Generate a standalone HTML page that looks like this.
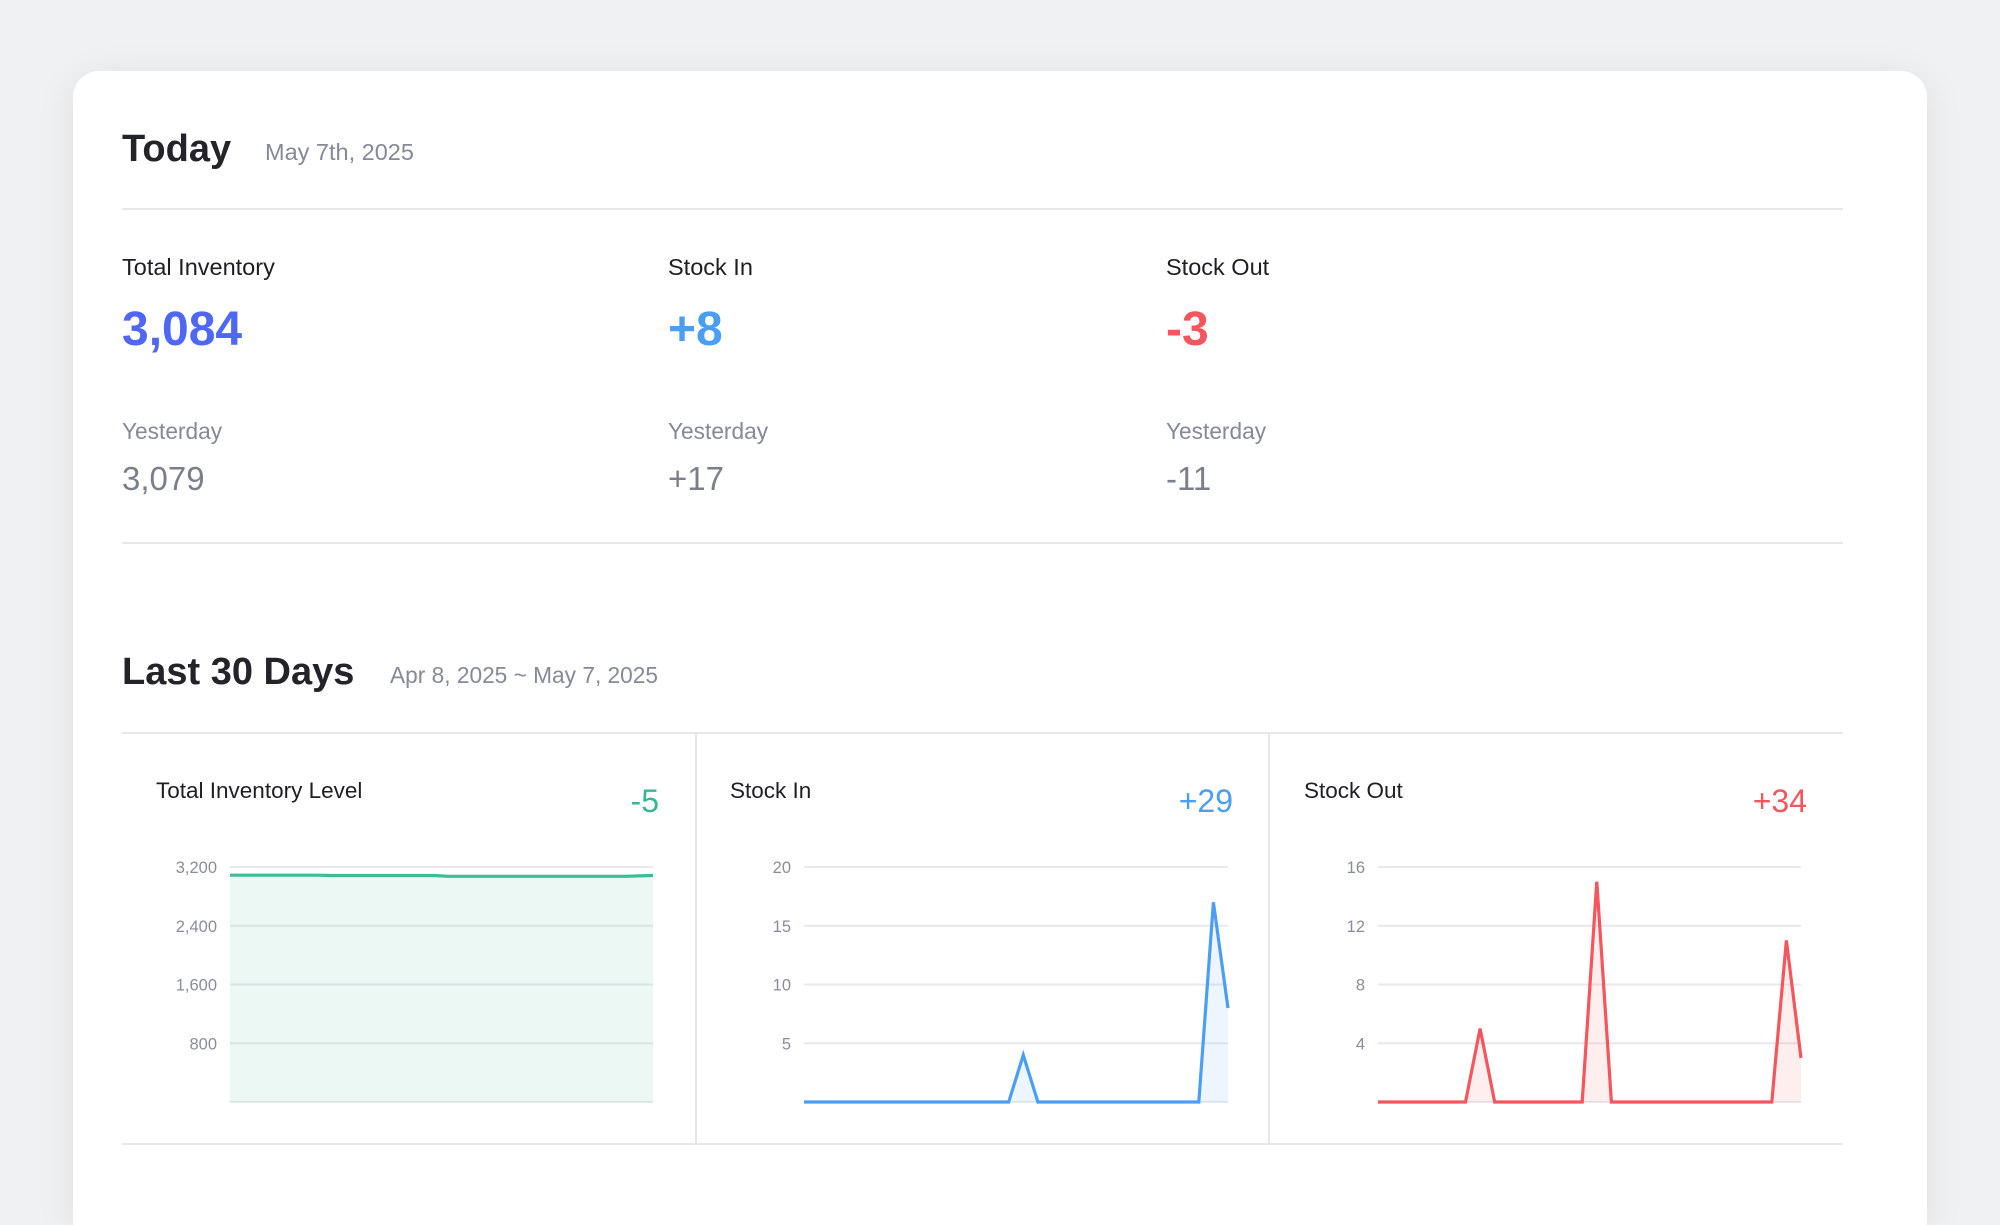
<!DOCTYPE html>
<html><head><meta charset="utf-8"><style>
html,body{margin:0;padding:0;width:2000px;height:1225px;overflow:hidden;}
body{background:#f0f1f3;position:relative;font-family:"Liberation Sans",sans-serif;}
.card{position:absolute;left:73px;top:71px;width:1854px;height:1154px;background:#fff;border-radius:26px 26px 0 0;box-shadow:0 6px 40px rgba(0,0,0,0.08);}
.t{position:absolute;white-space:nowrap;line-height:1;}
.hr{position:absolute;background:#e6e7eb;height:2px;}
.vr{position:absolute;background:#e6e7eb;width:2px;}
</style></head><body>
<div class="card"></div>
<div class="t" style="left:122px;top:130px;font-size:38px;font-weight:bold;color:#23242a;">Today</div>
<div class="t" style="left:265px;top:141px;font-size:23.5px;color:#868999;">May 7th, 2025</div>
<div class="hr" style="left:122px;top:208px;width:1721px;"></div>

<div class="t" style="left:122px;top:256px;font-size:23.5px;color:#1e1f24;">Total Inventory</div>
<div class="t" style="left:122px;top:306px;font-size:48px;font-weight:bold;color:#4f67f5;">3,084</div>
<div class="t" style="left:122px;top:420px;font-size:22.7px;color:#868999;">Yesterday</div>
<div class="t" style="left:122px;top:462px;font-size:33px;color:#7b7e8c;">3,079</div>

<div class="t" style="left:668px;top:256px;font-size:23.5px;color:#1e1f24;">Stock In</div>
<div class="t" style="left:668px;top:306px;font-size:48px;font-weight:bold;color:#4a9ff5;">+8</div>
<div class="t" style="left:668px;top:420px;font-size:22.7px;color:#868999;">Yesterday</div>
<div class="t" style="left:668px;top:462px;font-size:33px;color:#7b7e8c;">+17</div>

<div class="t" style="left:1166px;top:256px;font-size:23.5px;color:#1e1f24;">Stock Out</div>
<div class="t" style="left:1166px;top:306px;font-size:48px;font-weight:bold;color:#f5555d;">-3</div>
<div class="t" style="left:1166px;top:420px;font-size:22.7px;color:#868999;">Yesterday</div>
<div class="t" style="left:1166px;top:462px;font-size:33px;color:#7b7e8c;">-11</div>

<div class="hr" style="left:122px;top:542px;width:1721px;"></div>

<div class="t" style="left:122px;top:653px;font-size:38px;font-weight:bold;color:#23242a;">Last 30 Days</div>
<div class="t" style="left:390px;top:664px;font-size:22.7px;color:#868999;">Apr 8, 2025 ~ May 7, 2025</div>
<div class="hr" style="left:122px;top:732px;width:1721px;"></div>
<div class="hr" style="left:122px;top:1143px;width:1721px;"></div>
<div class="vr" style="left:695px;top:733px;height:411px;"></div>
<div class="vr" style="left:1268px;top:733px;height:411px;"></div>

<div class="t" style="left:156px;top:780px;font-size:22.5px;color:#1e1f24;">Total Inventory Level</div>
<div class="t" style="right:1341px;top:785px;font-size:32px;color:#35b893;">-5</div>
<div class="t" style="left:730px;top:780px;font-size:22.5px;color:#1e1f24;">Stock In</div>
<div class="t" style="right:767px;top:785px;font-size:32px;color:#4a9ff5;">+29</div>
<div class="t" style="left:1304px;top:780px;font-size:22.5px;color:#1e1f24;">Stock Out</div>
<div class="t" style="right:193px;top:785px;font-size:32px;color:#f5555d;">+34</div>

<svg id="charts" width="2000" height="1225" style="position:absolute;left:0;top:0;" xmlns="http://www.w3.org/2000/svg"></svg>
<script>
const inventoryValues = [3089,3089,3089,3089,3089,3089,3089,3084,3084,3084,3084,3084,3084,3084,3084,3073,3073,3073,3073,3073,3073,3073,3073,3073,3073,3073,3073,3073,3079,3084];
const stockInValues = [0,0,0,0,0,0,0,0,0,0,0,0,0,0,0,4,0,0,0,0,0,0,0,0,0,0,0,0,17,8];
const stockOutValues = [0,0,0,0,0,0,0,5,0,0,0,0,0,0,0,15,0,0,0,0,0,0,0,0,0,0,0,0,11,3];
const inventoryTicks = [800,1600,2400,3200];
const inventoryTickLabels = ["800","1,600","2,400","3,200"];
const stockInTicks = [5,10,15,20];
const stockInTickLabels = ["5","10","15","20"];
const stockOutTicks = [4,8,12,16];
const stockOutTickLabels = ["4","8","12","16"];

const NS = "http://www.w3.org/2000/svg";
const svg = document.getElementById('charts');
function mk(tag, attrs){const e=document.createElementNS(NS,tag);for(const k in attrs)e.setAttribute(k,attrs[k]);svg.appendChild(e);return e;}

function drawChart(cfg){
  const top=867, bottom=1102;
  const x = i => cfg.left + (cfg.right-cfg.left)*i/(cfg.values.length-1);
  const y = v => bottom - (bottom-top)*v/cfg.max;
  const base = mk('line',{x1:cfg.left,x2:cfg.right,y1:y(0),y2:y(0),stroke:'#e8e9ee','stroke-width':2});
  
  
  cfg.ticks.forEach((t,i)=>{
    const g = mk('line',{x1:cfg.left,x2:cfg.right,y1:y(t),y2:y(t),stroke:'#e8e9ee','stroke-width':2});
    
    
    const lb = mk('text',{x:cfg.left-13,y:y(t)+6,'text-anchor':'end','font-size':16.5,fill:'#8a8d9c','font-family':'Liberation Sans, sans-serif'});
    lb.textContent = cfg.labels[i];
    
    
  });
  let pts = cfg.values.map((v,i)=>x(i).toFixed(1)+','+y(v).toFixed(1));
  const area = mk('polygon',{points:pts.join(' ')+' '+x(cfg.values.length-1)+','+y(0)+' '+x(0)+','+y(0),fill:cfg.fill});
  
  
  const line = mk('polyline',{points:pts.join(' '),fill:'none',stroke:cfg.color,'stroke-width':3.2,'stroke-linejoin':'miter'});
  
  
}
drawChart({name:'inventory-chart',left:230,right:653,max:3200,values:inventoryValues,ticks:inventoryTicks,labels:inventoryTickLabels,color:'#3dbd97',fill:'rgba(61,189,151,0.1)'});
drawChart({name:'stock-in-chart',left:804,right:1228,max:20,values:stockInValues,ticks:stockInTicks,labels:stockInTickLabels,color:'#4a9ff5',fill:'rgba(74,159,245,0.1)'});
drawChart({name:'stock-out-chart',left:1378,right:1801,max:16,values:stockOutValues,ticks:stockOutTicks,labels:stockOutTickLabels,color:'#f5555d',fill:'rgba(245,85,93,0.1)'});
</script>
</body></html>
